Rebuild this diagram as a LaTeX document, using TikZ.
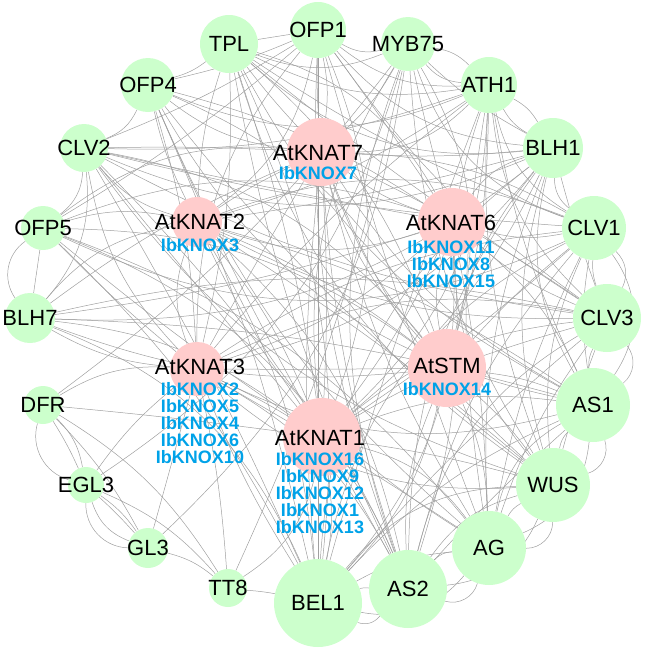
\documentclass[tikz,border=0pt]{standalone}
\usepackage{fontspec}
\setmainfont{Liberation Sans}
\usetikzlibrary{backgrounds}
\definecolor{gfill}{RGB}{204,255,204}
\definecolor{pfill}{RGB}{255,204,204}
\definecolor{bluetxt}{RGB}{0,162,232}
\definecolor{edgec}{RGB}{160,160,160}
\begin{document}
\begin{tikzpicture}[x=1pt,y=1pt,
  gnode/.style={circle,fill=gfill,draw=none,inner sep=0pt},
  pnode/.style={circle,fill=pfill,draw=none,inner sep=0pt},
  blk/.style={inner sep=0pt,font=\fontsize{22}{24}\selectfont,text=black},
  blu/.style={inner sep=0pt,align=center,anchor=north,font=\fontsize{18}{17}\selectfont\bfseries,text=bluetxt},
  edge/.style={draw=edgec,line width=0.5pt}]
\useasboundingbox (0,0) rectangle (646,-648);
% green nodes
\foreach \n/\x/\y/\d/\t in {
  ofp1/318/30/56/OFP1, myb/408/44/54/MYB75, ath1/489/85/56/ATH1,
  blh1/553/148/60/BLH1, clv1/594/228/64/CLV1, clv3/607/318/68/CLV3,
  as1/593/405/74/AS1, wus/553/485/74/WUS, ag/489/548/74/AG,
  as2/408/589/78/AS2, bel1/318/603/88/BEL1, tt8/228/588/38/TT8,
  gl3/148/548/40/GL3, egl3/86/485/36/EGL3, dfr/43/405/38/DFR,
  blh7/30/318/50/BLH7, ofp5/43/228/44/OFP5, clv2/84/148/48/CLV2,
  ofp4/148/85/54/OFP4, tpl/229/44/58/TPL}{
  \node[gnode,minimum size=\d pt] (\n) at (\x,-\y) {};
  \node[blk] (\n-t) at (\n) {\t};
}
% pink nodes
\node[pnode,minimum size=68pt] (k7) at (321,-152) {};
\node[pnode,minimum size=50pt] (k2) at (197,-222) {};
\node[pnode,minimum size=68pt] (k6) at (452,-222) {};
\node[pnode,minimum size=54pt] (k3) at (197,-369) {};
\node[pnode,minimum size=78pt] (stm) at (447,-368) {};
\node[pnode,minimum size=78pt] (k1) at (322,-437) {};
\node[blk] (k7-t) at (318,-153) {AtKNAT7};
\node[blu] (k7-b) at (318,-166.5) {IbKNOX7};
\node[blk] (k2-t) at (200,-222) {AtKNAT2};
\node[blu] (k2-b) at (200,-238.5) {IbKNOX3};
\node[blk] (k6-t) at (451,-223) {AtKNAT6};
\node[blu] (k6-b) at (451,-240.5) {IbKNOX11\\IbKNOX8\\IbKNOX15};
\node[blk] (k3-t) at (200,-367) {AtKNAT3};
\node[blu] (k3-b) at (200,-382.5) {IbKNOX2\\IbKNOX5\\IbKNOX4\\IbKNOX6\\IbKNOX10};
\node[blk] (stm-t) at (447,-366) {AtSTM};
\node[blu] (stm-b) at (447,-382.5) {IbKNOX14};
\node[blk] (k1-t) at (320,-438) {AtKNAT1};
\node[blu] (k1-b) at (320,-452.5) {IbKNOX16\\IbKNOX9\\IbKNOX12\\IbKNOX1\\IbKNOX13};
% edges
\begin{scope}[on background layer]
\pgfmathsetseed{4242}
% edges from the KNOX nodes: free bend
\foreach \s/\tl in {
  k7/{ofp1,tpl,myb,ath1,blh1,clv1,clv3,as1,wus,ag,as2,bel1,blh7,ofp5,clv2,ofp4,k2,k6,stm,k1,k3},
  k2/{tpl,ofp1,ofp4,clv2,ofp5,blh7,blh1,ath1,clv1,clv3,as1,wus,ag,as2,bel1,k6,stm,k1,k3},
  k6/{ofp1,tpl,myb,ath1,blh1,clv1,clv3,as1,wus,ag,as2,bel1,ofp4,clv2,ofp5,blh7,stm,k1,k3},
  k3/{dfr,egl3,gl3,tt8,blh7,ofp5,clv2,ofp4,tpl,ofp1,ath1,blh1,clv1,clv3,as1,wus,ag,as2,bel1,stm,k1},
  stm/{ofp1,tpl,myb,ath1,blh1,clv1,clv3,as1,wus,ag,as2,bel1,ofp4,clv2,ofp5,blh7,k1},
  k1/{ofp1,tpl,ofp4,clv2,ofp5,blh7,ath1,blh1,clv1,clv3,as1,wus,ag,as2,bel1,tt8,myb,dfr}}{
  \foreach \t in \tl {
    \pgfmathsetmacro\bb{rnd*44-22}
    \draw[edge] (\s) to[bend left=\bb] (\t);
  }
}
% edges between ring nodes: bend toward the centre
\foreach \s/\tl in {
  tpl/{myb,ath1,blh1,clv1,wus,as1,bel1,as2,clv3,ofp4},
  ofp1/{myb,ath1,blh1,clv3,as2,ofp4,ofp5,clv2,ag},
  myb/{ath1,blh1,tt8,egl3,gl3,dfr,wus,as2,clv1},
  ath1/{blh1,clv1,clv3,as1,wus,ag,bel1,ofp4,clv2},
  blh1/{clv1,clv3,as1,wus,ag,as2,bel1,clv2,blh7},
  clv1/{clv3,as1,wus,ag,as2,bel1,clv2,ofp5},
  clv3/{as1,wus,ag,as2,bel1,clv2,blh7},
  as1/{wus,ag,as2,bel1,blh7,ofp4},
  wus/{ag,as2,bel1,clv2,ofp4},
  ag/{as2,bel1,ofp4,ofp5},
  as2/{bel1,ofp5,clv2},
  bel1/{ofp5,blh7,clv2,ofp4,tt8},
  dfr/{egl3,gl3,tt8,egl3},
  egl3/{gl3,tt8,gl3},
  gl3/{tt8},
  ofp5/{clv2},
  blh7/{clv2},
  ofp4/{clv2}}{
  \foreach \t in \tl {
    \pgfpointanchor{\s}{center}\pgfgetlastxy\xa\ya
    \pgfpointanchor{\t}{center}\pgfgetlastxy\xb\yb
    \pgfmathsetmacro\cr{((\xb-\xa)/100)*((-318-\ya)/100)-((\yb-\ya)/100)*((318-\xa)/100)}
    \pgfmathsetmacro\bb{ifthenelse(\cr>0,1,-1)*(rnd*24+2)}
    \draw[edge] (\s) to[bend left=\bb] (\t);
  }
}
% straight edges
\draw[edge] (tpl) -- (ofp1);
\draw[edge] (ofp1) -- (bel1);
\draw[edge] (ofp5) -- (blh7);
% rim arcs
\foreach \s/\t/\b in {
  egl3/dfr/45, gl3/egl3/45, gl3/egl3/25, blh7/ofp5/45,
  clv3/as1/45, clv1/as1/35, clv1/clv3/35, as1/wus/45, as1/ag/30,
  wus/ag/45, wus/as2/30, ag/as2/45, ag/bel1/30, as2/bel1/35,
  myb/ath1/18, ath1/blh1/15}{
  \draw[edge] (\s) to[bend left=\b] (\t);
}
\end{scope}
\end{tikzpicture}
\end{document}
